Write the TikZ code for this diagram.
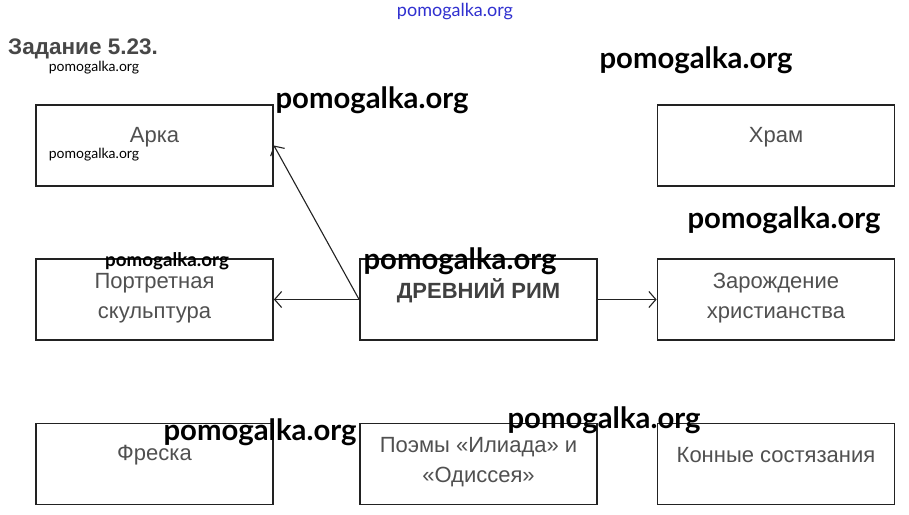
\documentclass[tikz,border=0pt]{standalone}
\usepackage{fontspec}
\setmainfont{Liberation Sans}
\newfontfamily\wmfont{Lato}
\usetikzlibrary{arrows.meta}
\definecolor{boxline}{HTML}{222222}
\definecolor{txtgray}{HTML}{505050}
\definecolor{wmblue}{HTML}{3030D0}
\tikzset{
  box/.style={draw=boxline, line width=1.8pt, minimum width=237pt, minimum height=81pt, inner sep=0pt},
  btext/.style={text=txtgray, font=\fontsize{22}{30}\selectfont, align=center, inner sep=0pt},
  wmbig/.style={font=\wmfont\fontsize{29.3}{30}\selectfont\bfseries, inner sep=0pt, text=black},
  wmsmall/.style={font=\wmfont\fontsize{14}{16}\selectfont, inner sep=0pt, text=black},
  wmmid/.style={font=\wmfont\fontsize{18.8}{20}\selectfont\bfseries, inner sep=0pt, text=black},
  arr/.style={draw=boxline, line width=1.1pt, -{Straight Barb[length=7pt,width=16pt,line width=1.1pt]}}
}
\begin{document}
\begin{tikzpicture}[x=1pt,y=1pt]
\useasboundingbox (0,0) rectangle (909,514);
\fill[white] (0,0) rectangle (909,514);
% boxes
\node[box] (arka) at (154.5,368.5) {};
\node[box] (hram) at (776,368.5) {};
\node[box] (port) at (154.5,214.5) {};
\node[box] (rim) at (478.5,214.5) {};
\node[box] (zar) at (776,214.5) {};
\node[box] (fresk) at (154.5,50) {};
\node[box] (poem) at (478.5,50) {};
\node[box] (kon) at (776,50) {};
% texts
\node[btext] (tarka) at (154.5,377) {Арка};
\node[btext] (thram) at (776,377) {Храм};
\node[btext] (tport) at (154.5,215.5) {Портретная\\скульптура};
\node[btext, text=black!75, font=\fontsize{22}{24}\selectfont\bfseries] (trim) at (478.5,223) {ДРЕВНИЙ РИМ};
\node[btext] (tzar) at (776,215.5) {Зарождение\\христианства};
\node[btext] (tfresk) at (154.5,59) {Фреска};
\node[btext] (tpoem) at (478.5,52) {Поэмы «Илиада» и\\«Одиссея»};
\node[btext] (tkon) at (776,59) {Конные состязания};
% arrows
\draw[arr] (rim.west) -- (port.east);
\draw[arr] (rim.west) -- (arka.east);
\draw[arr] (rim.east) -- (zar.west);
% title
\node[anchor=west, inner sep=0pt, text=black!72, font=\fontsize{22.5}{24}\selectfont\bfseries] (title) at (8,465) {Задание 5.23.};
% watermarks
\node[font=\wmfont\fontsize{18}{18}\selectfont, text=wmblue, inner sep=0pt] (wm0) at (455,502) {pomogalka.org};
\node[wmsmall] (wm1) at (94,446) {pomogalka.org};
\node[wmbig] (wm2) at (696,454) {pomogalka.org};
\node[wmbig] (wm3) at (372,414) {pomogalka.org};
\node[wmsmall] (wm4) at (94,359) {pomogalka.org};
\node[wmbig] (wm5) at (784,294) {pomogalka.org};
\node[wmmid] (wm6) at (167,253) {pomogalka.org};
\node[wmbig] (wm7) at (460,253) {pomogalka.org};
\node[wmbig] (wm8) at (260,82) {pomogalka.org};
\node[wmbig] (wm9) at (604,94) {pomogalka.org};
\end{tikzpicture}
\end{document}
